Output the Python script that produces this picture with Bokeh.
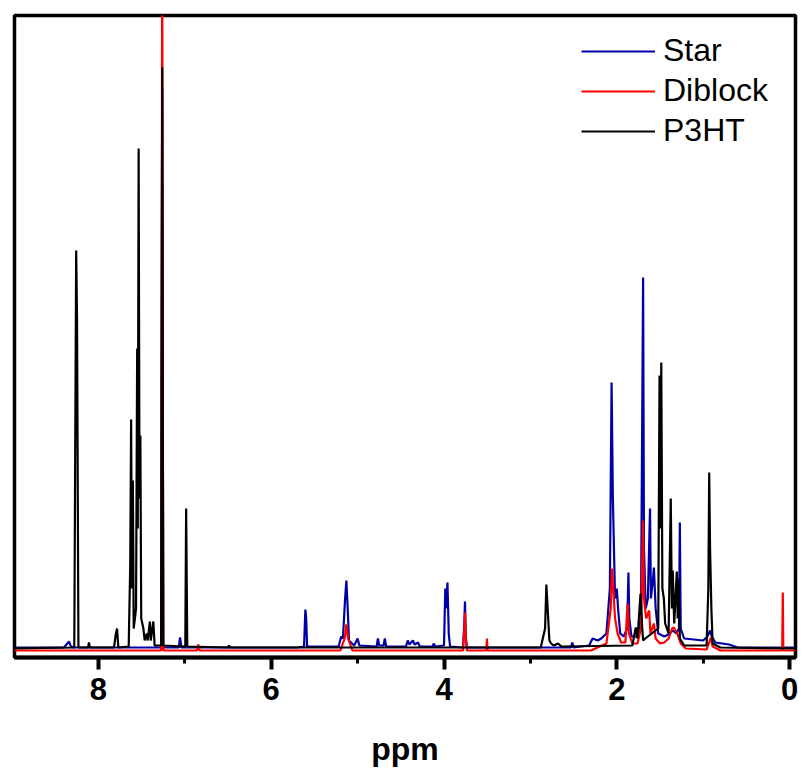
from bokeh.plotting import figure
from bokeh.models import Range1d, SingleIntervalTicker, Legend, LegendItem
from bokeh.embed import file_html
from bokeh.resources import INLINE

# ---- data (ppm, intensity) ----
star_ppm = [9.05, 8.40, 8.36, 8.34, 8.32, 8.28, 7.275, 7.262, 7.25, 7.07, 7.055, 7.04,
            5.70, 5.62, 5.605, 5.595, 5.585, 5.22, 5.19, 5.17, 5.145, 5.13, 5.115, 5.10,
            5.04, 5.00, 4.98, 4.78, 4.765, 4.75, 4.70, 4.685, 4.67, 4.44, 4.42, 4.40,
            4.36, 4.34, 4.30, 4.28, 4.13, 4.12, 4.10, 4.00, 3.985, 3.975, 3.96, 3.945,
            3.93, 3.78, 3.765, 3.757, 3.748, 3.735, 2.53, 2.515, 2.50, 2.32, 2.28, 2.22,
            2.18, 2.12, 2.08, 2.06, 2.045, 2.02, 2.00, 1.985, 1.96, 1.92, 1.88, 1.865,
            1.855, 1.83, 1.76, 1.72, 1.695, 1.685, 1.665, 1.64, 1.615, 1.605, 1.58, 1.57,
            1.55, 1.52, 1.45, 1.40, 1.35, 1.31, 1.28, 1.27, 1.26, 1.22, 1.00, 0.95, 0.92,
            0.90, 0.86, 0.70, 0.60, -0.1]
star_int = [1, 1, 5, 7, 2, 1, 1, 560, 1, 1, 11, 1,
            1, 2, 39, 30, 2, 2, 12, 10, 50, 68, 40, 8,
            3, 10, 3, 2, 10, 3, 3, 10, 2, 2, 8, 4,
            8, 4, 6, 2, 2, 5, 2, 3, 60, 40, 66, 15,
            2, 1, 25, 47, 12, 1, 1, 6, 1, 3, 10, 8,
            10, 15, 60, 266, 150, 50, 60, 40, 15, 12, 20, 76,
            30, 12, 12, 30, 371, 100, 40, 50, 140, 50, 70, 81,
            40, 15, 12, 14, 18, 15, 20, 126, 20, 10, 8, 12, 18,
            12, 6, 4, 1, 1]

diblock_ppm = [9.05, 7.275, 7.262, 7.25, 6.86, 6.845, 6.83, 5.20, 5.15, 5.13, 5.11, 5.06,
               3.78, 3.765, 3.757, 3.748, 3.735, 3.51, 3.503, 3.497, 2.30, 2.12, 2.07,
               2.055, 2.04, 2.02, 1.99, 1.95, 1.90, 1.875, 1.86, 1.82, 1.76, 1.72, 1.695,
               1.685, 1.66, 1.625, 1.61, 1.57, 1.55, 1.50, 1.45, 1.40, 1.36, 1.34, 1.30,
               1.26, 1.20, 0.96, 0.91, 0.89, 0.80, 0.085, 0.078, 0.072, -0.1]
diblock_int = [-2, -2, 700, -2, -2, 4, -2, -2, 10, 24, 10, -2,
               -2, 20, 36, 10, -2, -2, 10, -2, -2, 5, 40,
               80, 60, 30, 15, 6, 6, 45, 15, 5, 5, 20, 128,
               50, 30, 38, 15, 25, 10, 5, 6, 10, 20, 21, 15,
               5, 0, -1, 11, 2, -2, -2, 56, -2, -2]

p3ht_ppm = [9.05, 8.28, 8.258, 8.248, 8.232, 8.12, 8.11, 8.10, 7.82, 7.80, 7.785, 7.77,
            7.65, 7.632, 7.622, 7.612, 7.602, 7.592, 7.565, 7.552, 7.545, 7.535, 7.525,
            7.515, 7.505, 7.48, 7.465, 7.44, 7.43, 7.405, 7.395, 7.365, 7.35, 7.275,
            7.262, 7.25, 6.995, 6.985, 6.972, 6.50, 6.49, 6.48, 2.88, 2.83, 2.815, 2.80,
            2.78, 2.76, 2.73, 2.68, 2.64, 1.82, 1.78, 1.76, 1.725, 1.705, 1.695, 1.67,
            1.52, 1.505, 1.495, 1.485, 1.472, 1.455, 1.44, 1.40, 1.375, 1.362, 1.352,
            1.335, 1.305, 1.295, 1.285, 1.27, 1.22, 0.96, 0.94, 0.93, 0.92, 0.905, 0.89,
            0.80, -0.1]
p3ht_int = [0, 1, 398, 330, 1, 1, 6, 1, 1, 14, 20, 1,
            2, 85, 229, 60, 168, 20, 40, 300, 120, 500, 150,
            213, 30, 20, 8, 15, 8, 27, 8, 27, 3, 3,
            581, 3, 2, 140, 2, 1, 3, 1, 1, 20, 64, 40,
            8, 5, 3, 5, 2, 3, 21, 10, 55, 20, 8, 10,
            20, 273, 120, 286, 60, 50, 25, 15, 150, 40, 78,
            25, 77, 30, 70, 10, 3, 3, 60, 176, 100, 40, 5,
            1, 0]

series_names = ["Star", "Diblock", "P3HT"]
series_colors = ["#0000a8", "#ff0000", "#000000"]
x_ticks_interval = 2

FONT = "Liberation Sans"

p = figure(frame_width=781, frame_height=642,
           min_border_left=14, min_border_right=5, min_border_top=15, min_border_bottom=113,
           x_range=Range1d(8.972, -0.069), y_range=Range1d(-9, 633),
           y_axis_location=None, toolbar_location=None, output_backend="svg")

p.xgrid.visible = False
p.ygrid.visible = False
p.outline_line_color = "black"
p.outline_line_width = 3.5
p.background_fill_color = "white"
p.border_fill_color = "white"

ax = p.xaxis[0]
ax.ticker = SingleIntervalTicker(interval=x_ticks_interval, num_minor_ticks=2)
ax.axis_line_width = 4
ax.axis_line_color = "black"
ax.major_tick_line_width = 4
ax.major_tick_in = 0
ax.major_tick_out = 12
ax.minor_tick_line_width = 3
ax.minor_tick_in = 0
ax.minor_tick_out = 6
ax.major_label_text_font = FONT
ax.major_label_text_font_style = "bold"
ax.major_label_text_font_size = "31px"
ax.major_label_text_color = "black"
ax.major_label_standoff = 8
ax.axis_label = "ppm"
ax.axis_label_text_font = FONT
ax.axis_label_text_font_style = "bold"
ax.axis_label_text_font_size = "32px"
ax.axis_label_text_color = "black"
ax.axis_label_standoff = 28

r_star = p.line(star_ppm, star_int, line_color=series_colors[0], line_width=2.2)
r_di = p.line(diblock_ppm, diblock_int, line_color=series_colors[1], line_width=2.2)
r_p3 = p.line(p3ht_ppm, p3ht_int, line_color=series_colors[2], line_width=2.2)

legend = Legend(items=[LegendItem(label=series_names[0], renderers=[r_star]),
                       LegendItem(label=series_names[1], renderers=[r_di]),
                       LegendItem(label=series_names[2], renderers=[r_p3])],
                location=(567, 508))
legend.border_line_color = None
legend.background_fill_alpha = 0
legend.padding = 0
legend.margin = 0
legend.spacing = 3
legend.glyph_width = 74
legend.glyph_height = 36
legend.label_height = 36
legend.label_standoff = 8
legend.label_text_font = FONT
legend.label_text_font_size = "32px"
legend.label_text_color = "black"
p.add_layout(legend, "center")

open("out.html", "w").write(file_html(p, INLINE))
